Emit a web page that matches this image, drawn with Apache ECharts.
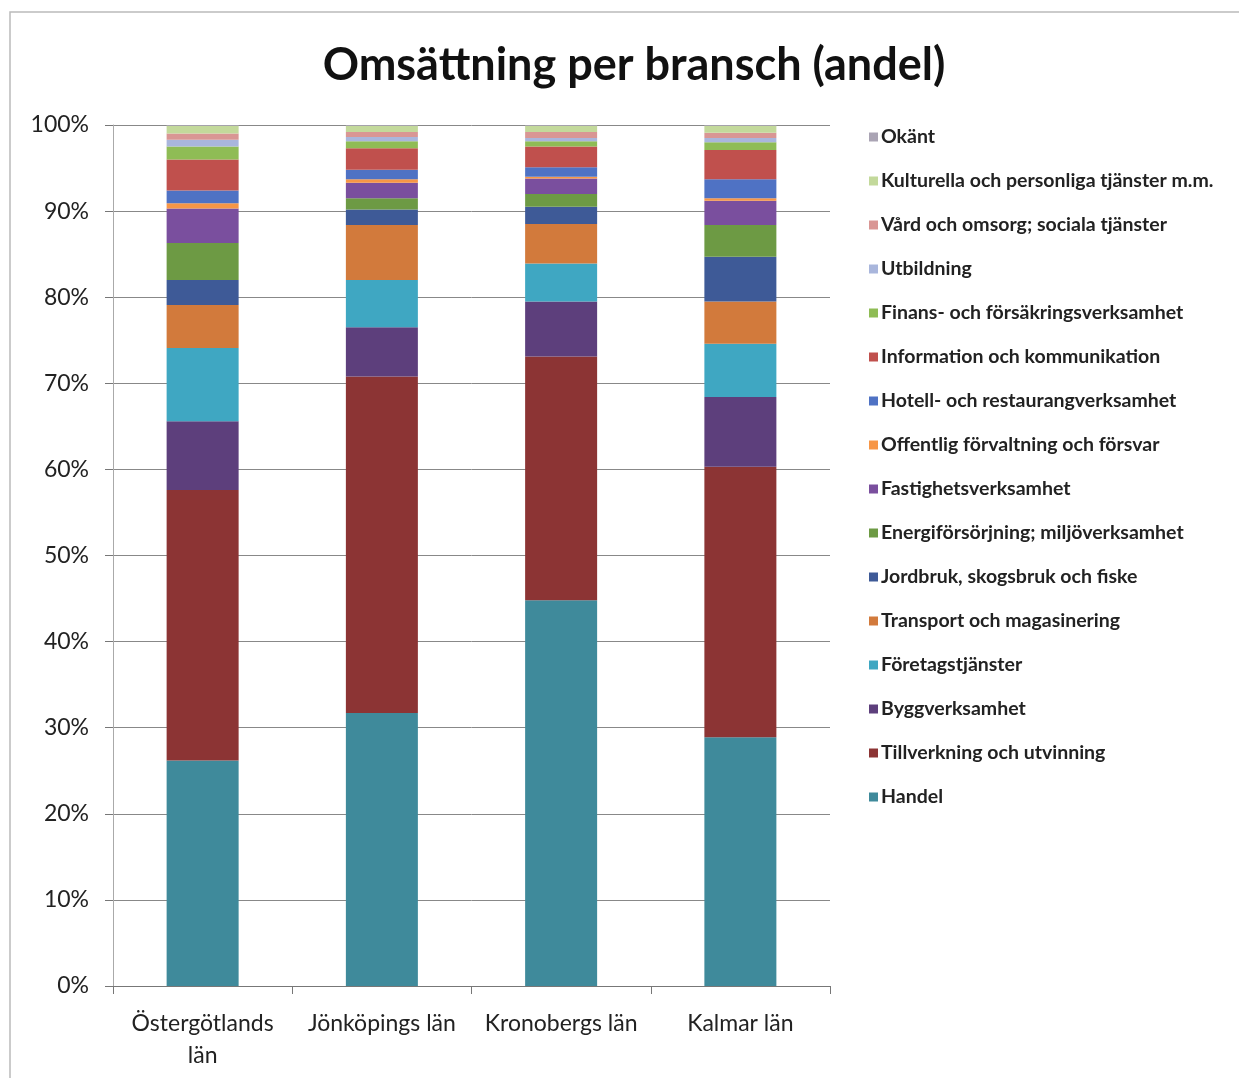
<!DOCTYPE html>
<html>
<head>
<meta charset="utf-8">
<script src="https://cdn.jsdelivr.net/npm/echarts@6/dist/echarts.min.js"></script>
<style>
    html, body { margin: 0; padding: 0; background: #fff; }
    #chart { width: 1239px; height: 1078px; }
</style>
</head>
<body>
<div id="chart"></div>
<script>
// län (kategorier)
const lan = ['Östergötlands\nlän', 'Jönköpings län', 'Kronobergs län', 'Kalmar län'];

// andel i procent, nerifrån och upp
const handel = [26.2, 31.7, 44.8, 28.9];
const tillverkning = [31.4, 39.1, 28.3, 31.4];
const bygg = [8.0, 5.7, 6.4, 8.1];
const foretag = [8.5, 5.5, 4.4, 6.2];
const transport = [5.0, 6.4, 4.6, 4.9];
const jordbruk = [2.9, 1.8, 2.0, 5.2];
const energi = [4.3, 1.3, 1.5, 3.7];
const fastighet = [4.0, 1.8, 1.8, 2.8];
const offentlig = [0.6, 0.4, 0.2, 0.3];
const hotell = [1.5, 1.1, 1.1, 2.2];
const information = [3.6, 2.5, 2.4, 3.4];
const finans = [1.5, 0.8, 0.6, 0.9];
const utbildning = [0.8, 0.5, 0.4, 0.5];
const vard = [0.7, 0.6, 0.7, 0.6];
const kulturella = [0.9, 0.7, 0.7, 0.8];
const okant = [0.1, 0.1, 0.1, 0.1];

const yTicks = ['0%', '10%', '20%', '30%', '40%', '50%', '60%', '70%', '80%', '90%', '100%'];

const serier = [
    {name: 'Handel', data: handel, color: '#3f8a9b'},
    {name: 'Tillverkning och utvinning', data: tillverkning, color: '#8c3434'},
    {name: 'Byggverksamhet', data: bygg, color: '#5d3f7c'},
    {name: 'Företagstjänster', data: foretag, color: '#3fa7c2'},
    {name: 'Transport och magasinering', data: transport, color: '#d27a3c'},
    {name: 'Jordbruk, skogsbruk och fiske', data: jordbruk, color: '#3e5a97'},
    {name: 'Energiförsörjning; miljöverksamhet', data: energi, color: '#6d9a44'},
    {name: 'Fastighetsverksamhet', data: fastighet, color: '#7a4f9e'},
    {name: 'Offentlig förvaltning och försvar', data: offentlig, color: '#f79646'},
    {name: 'Hotell- och restaurangverksamhet', data: hotell, color: '#4f72c4'},
    {name: 'Information och kommunikation', data: information, color: '#c0504d'},
    {name: 'Finans- och försäkringsverksamhet', data: finans, color: '#8fbc55'},
    {name: 'Utbildning', data: utbildning, color: '#a9b6dc'},
    {name: 'Vård och omsorg; sociala tjänster', data: vard, color: '#d99694'},
    {name: 'Kulturella och personliga tjänster m.m.', data: kulturella, color: '#c3d99b'},
    {name: 'Okänt', data: okant, color: '#aaa4b4'}
];

const font = 'Lato, "Noto Sans", sans-serif';
const chart = echarts.init(document.getElementById('chart'));
chart.setOption({
    animation: false,
    backgroundColor: '#fff',
    title: {
        text: 'Omsättning per bransch (andel)',
        left: 629,
        textAlign: 'center',
        top: 38,
        textStyle: {
            fontFamily: font,
            fontSize: 45,
            fontWeight: 'bold',
            color: '#111'
        }
    },
    graphic: [{
        type: 'polyline',
        shape: {points: [[10, 1078], [10, 12], [1239, 12]]},
        style: {stroke: '#bbb', lineWidth: 1.5, fill: null}
    }],
    grid: {
        left: 113,
        right: 409,
        top: 125,
        bottom: 92
    },
    legend: {
        orient: 'vertical',
        left: 864,
        top: 122,
        itemWidth: 9,
        itemHeight: 9,
        itemGap: 24,
        icon: 'rect',
        data: serier.map((s) => s.name).reverse(),
        textStyle: {
            fontFamily: font,
            fontSize: 19.5,
            fontWeight: 'bold',
            color: '#222',
            lineHeight: 20,
            padding: [0, 0, 0, -2]
        }
    },
    xAxis: {
        type: 'category',
        data: lan,
        axisLine: {
            lineStyle: {color: '#777'}
        },
        axisTick: {
            show: true,
            interval: 0,
            length: 8,
            lineStyle: {color: '#777'}
        },
        axisLabel: {
            interval: 0,
            color: '#222',
            fontFamily: font,
            fontSize: 23,
            margin: 22,
            lineHeight: 32
        }
    },
    yAxis: {
        type: 'value',
        min: 0,
        max: 100,
        interval: 10,
        axisLine: {
            show: true,
            lineStyle: {color: '#aaa'}
        },
        axisTick: {
            show: true,
            length: 8,
            lineStyle: {color: '#777'}
        },
        splitLine: {
            lineStyle: {color: '#888'}
        },
        axisLabel: {
            color: '#222',
            fontFamily: font,
            fontSize: 23,
            margin: 24,
            formatter: (v) => yTicks[Math.round(v / 10)]
        }
    },
    series: serier.map((s) => ({
        name: s.name,
        type: 'bar',
        stack: 'andel',
        barWidth: 72,
        data: s.data,
        itemStyle: {
            color: s.color
        }
    }))
});
</script>
</body>
</html>
